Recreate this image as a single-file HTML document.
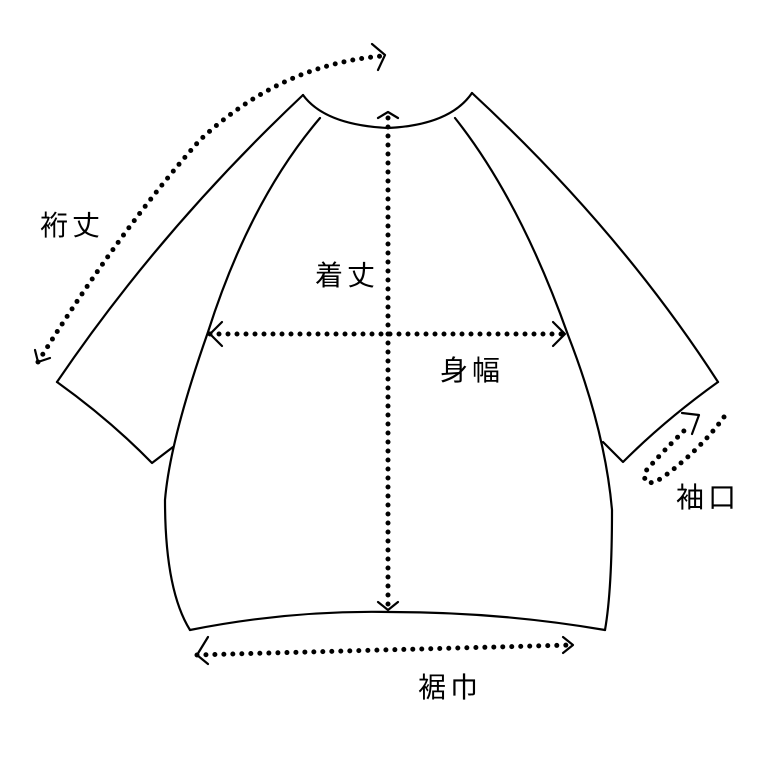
<!DOCTYPE html>
<html><head><meta charset="utf-8"><style>
body{margin:0;background:#fff}
svg{display:block}
text{font-family:"Liberation Sans","Noto Sans CJK JP",sans-serif;font-size:28px;letter-spacing:4px;fill:#000}
</style></head><body>
<svg width="775" height="776" viewBox="0 0 775 776">
<g fill="none" stroke="#000" stroke-width="2.2" stroke-linecap="round" stroke-linejoin="round">
<path d="M303,95 Q325,125 388,128 Q450,125 472,93"/>
<path d="M303,95 Q160,230 57,382"/>
<path d="M472,93 Q620,230 718,382"/>
<path d="M57,382 Q110,420 152,463 L173,447"/>
<path d="M718,382 Q665,420 623,462 L603,442"/>
<path d="M320,118 Q250,200 208,332 Q170,440 165,500 Q165,590 190,630"/>
<path d="M455,118 Q520,200 568,335 Q605,430 612,510 Q612,590 605,630"/>
<path d="M190,630 Q290,610 390,612 Q500,612 605,630"/>
<path d="M372,44 L385,55 L378,70"/>
<path d="M35,350 L38,362 L50,358"/>
<path d="M378,118 L388,112 L398,118"/>
<path d="M378,602 L388,610 L398,602"/>
<path d="M222,322 L210,334 L222,346"/>
<path d="M553,322 L565,334 L553,346"/>
<path d="M208,637 L197,655 L208,664"/>
<path d="M563,637 L573,645 L563,653"/>
<path d="M682,413 L699,415 L692,434"/>
</g>
<g fill="none" stroke="#000" stroke-width="5" stroke-linecap="round" stroke-dasharray="0 9">
<path d="M38,362 Q120,230 200,140 Q280,65 382,56"/>
<path d="M388,118 L388,608"/>
<path d="M210,334 L565,334"/>
<path d="M197,655 Q380,650 573,645"/>
<path d="M724,417 Q700,450 662,478 Q642,490 645,472 Q662,452 690,425"/>
</g>
<text x="40" y="235">裄丈</text>
<text x="315" y="285">着丈</text>
<text x="440" y="380">身幅</text>
<text x="676" y="507">袖口</text>
<text x="418" y="697">裾巾</text>
</svg>
</body></html>
